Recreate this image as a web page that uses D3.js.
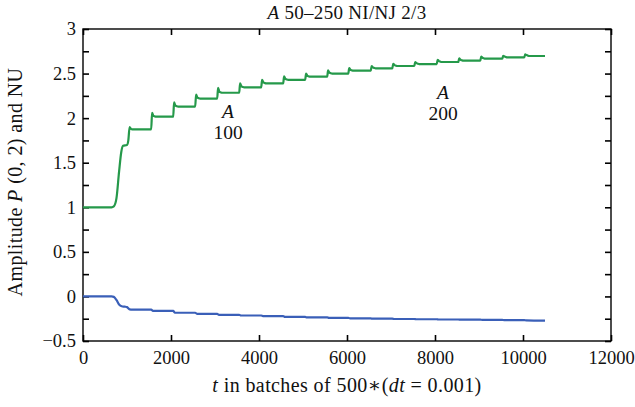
<!DOCTYPE html>
<html>
<head>
<meta charset="utf-8">
<script src="https://cdn.jsdelivr.net/npm/d3@7"></script>
<style>
  body { margin: 0; background: #fff; }
  text { font-family: "Liberation Serif", "DejaVu Serif", serif; fill: #111; }
</style>
</head>
<body>
<div id="chart-mount"></div>
<script>
var WIDTH = 635;
var HEIGHT = 407;
var MARGIN = { top: 29, right: 24, bottom: 66, left: 83 };

var X_DOMAIN = [0, 12000];
var Y_DOMAIN = [-0.5, 3];
var X_TICKS = [0, 2000, 4000, 6000, 8000, 10000, 12000];
var Y_TICKS = [-0.5, 0, 0.5, 1, 1.5, 2, 2.5, 3];
var Y_MINOR = [-0.25, 0.25, 0.75, 1.25, 1.75, 2.25, 2.75];

// start-up (rise / dip) of each curve
var greenOnset = [[0, 1.0], [650, 1.0], [700, 1.01], [760, 1.1], [820, 1.4], [870, 1.62],
  [910, 1.69], [1000, 1.70], [1030, 1.75], [1060, 1.90], [1090, 1.88], [1120, 1.875]];
var blueOnset = [[0, 0], [650, 0], [700, -0.005], [760, -0.04], [820, -0.09], [880, -0.11],
  [950, -0.115], [1000, -0.12], [1060, -0.145], [1120, -0.148]];

// after that both curves move in steps every ~500 batches
var stepTimes = [1550, 2050, 2550, 3050, 3550, 4050, 4550, 5050, 5550, 6030,
  6540, 7030, 7530, 8040, 8530, 9030, 9530, 10030];
var greenPeak = [2.06, 2.176, 2.265, 2.34, 2.39, 2.43, 2.47, 2.50, 2.535, 2.56,
  2.585, 2.61, 2.63, 2.655, 2.67, 2.69, 2.70, 2.715];
var greenLevel = [2.016, 2.13, 2.22, 2.285, 2.346, 2.39, 2.43, 2.465, 2.50, 2.532,
  2.559, 2.585, 2.607, 2.63, 2.645, 2.667, 2.682, 2.697];
var blueLevel = [-0.163, -0.183, -0.195, -0.206, -0.214, -0.221, -0.229, -0.236, -0.240, -0.247,
  -0.250, -0.253, -0.256, -0.259, -0.261, -0.263, -0.266, -0.269];
var endTime = 10500;
var blueEnd = -0.272;

var GREEN = '#25994a';
var BLUE = '#3a5fb8';

function buildGreen () {
  var pts = greenOnset.slice();
  var prev = pts[pts.length - 1][1];
  stepTimes.forEach(function (t, i) {
    pts.push([t, prev]);
    pts.push([t + 20, greenPeak[i]]);
    pts.push([t + 50, greenLevel[i] + 0.01]);
    pts.push([t + 80, greenLevel[i] + 0.004]);
    pts.push([t + 110, greenLevel[i]]);
    prev = greenLevel[i];
  });
  pts.push([endTime, prev]);
  return pts;
}

function buildBlue () {
  var pts = blueOnset.slice();
  var prev = pts[pts.length - 1][1];
  stepTimes.forEach(function (t, i) {
    pts.push([t, prev]);
    pts.push([t + 40, blueLevel[i]]);
    prev = blueLevel[i];
  });
  pts.push([endTime, blueEnd]);
  return pts;
}

var innerW = WIDTH - MARGIN.left - MARGIN.right;
var innerH = HEIGHT - MARGIN.top - MARGIN.bottom;

var x = d3.scaleLinear().domain(X_DOMAIN).range([0, innerW]);
var y = d3.scaleLinear().domain(Y_DOMAIN).range([innerH, 0]);

var $svg = d3.select('#chart-mount').append('svg')
  .attr('width', WIDTH)
  .attr('height', HEIGHT);

var $g = $svg.append('g')
  .attr('transform', 'translate(' + MARGIN.left + ',' + MARGIN.top + ')');

function fmt (d) {
  return d < 0 ? '\u2212' + Math.abs(d) : String(d);
}

// inward ticks on all four sides
var TICK = 6;
$g.append('g')
  .attr('transform', 'translate(0,' + innerH + ')')
  .call(d3.axisBottom(x).tickValues(X_TICKS).tickSize(-TICK).tickPadding(10).tickFormat(fmt));
$g.append('g')
  .call(d3.axisTop(x).tickValues(X_TICKS).tickSize(-TICK).tickFormat(''));
$g.append('g')
  .call(d3.axisLeft(y).tickValues(Y_TICKS.concat(Y_MINOR)).tickSize(-TICK).tickPadding(7)
    .tickFormat(function (d) { return Y_MINOR.indexOf(d) >= 0 ? '' : fmt(d); }));
$g.append('g')
  .attr('transform', 'translate(' + innerW + ',0)')
  .call(d3.axisRight(y).tickValues(Y_TICKS.concat(Y_MINOR)).tickSize(-TICK).tickFormat(''));

$g.selectAll('.domain').remove();
$g.selectAll('.tick line').attr('stroke', '#000').attr('stroke-width', 1.6);
$g.selectAll('.tick text')
  .style('font-size', '18.5px')
  .style('font-family', '"Liberation Serif", serif')
  .attr('fill', '#111');

$g.append('rect')
  .attr('width', innerW)
  .attr('height', innerH)
  .attr('fill', 'none')
  .attr('stroke', '#000')
  .attr('stroke-width', 1.4);

var line = d3.line()
  .x(function (d) { return x(d[0]); })
  .y(function (d) { return y(d[1]); })
  .curve(d3.curveMonotoneX);

$g.append('path')
  .datum(buildBlue())
  .attr('d', line)
  .attr('fill', 'none')
  .attr('stroke', BLUE)
  .attr('stroke-width', 2.2);

$g.append('path')
  .datum(buildGreen())
  .attr('d', line)
  .attr('fill', 'none')
  .attr('stroke', GREEN)
  .attr('stroke-width', 2.2);

// annotations
function label (tx, ty, sym, num) {
  var t = $svg.append('text')
    .attr('x', tx)
    .attr('y', ty)
    .attr('text-anchor', 'middle')
    .style('font-size', '19.5px');
  t.append('tspan').attr('x', tx).attr('font-style', 'italic').text(sym);
  t.append('tspan').attr('x', tx).attr('dy', 21).text(num);
}
label(228, 118, 'A', '100');
label(443, 99, 'A', '200');

// title
var title = $svg.append('text')
  .attr('x', (MARGIN.left + WIDTH - MARGIN.right) / 2)
  .attr('y', 19)
  .attr('text-anchor', 'middle')
  .style('font-size', '19px')
  .style('letter-spacing', '0.3px');
title.append('tspan').attr('font-style', 'italic').text('A');
title.append('tspan').text(' 50\u2013250 NI/NJ 2/3');

// x label
var xl = $svg.append('text')
  .attr('x', MARGIN.left + innerW / 2)
  .attr('y', 392)
  .attr('text-anchor', 'middle')
  .style('font-size', '20px')
  .style('letter-spacing', '0.4px');
xl.append('tspan').attr('font-style', 'italic').text('t');
xl.append('tspan').text(' in batches of 500\u2217(');
xl.append('tspan').attr('font-style', 'italic').text('dt');
xl.append('tspan').text(' = 0.001)');

// y label
var yl = $svg.append('text')
  .attr('transform', 'translate(22,' + (MARGIN.top + innerH / 2 - 3) + ') rotate(-90)')
  .attr('text-anchor', 'middle')
  .style('font-size', '20px')
  .style('letter-spacing', '0.4px');
yl.append('tspan').text('Amplitude ');
yl.append('tspan').attr('font-style', 'italic').text('P');
yl.append('tspan').text(' (0, 2) and NU');
</script>
</body>
</html>
